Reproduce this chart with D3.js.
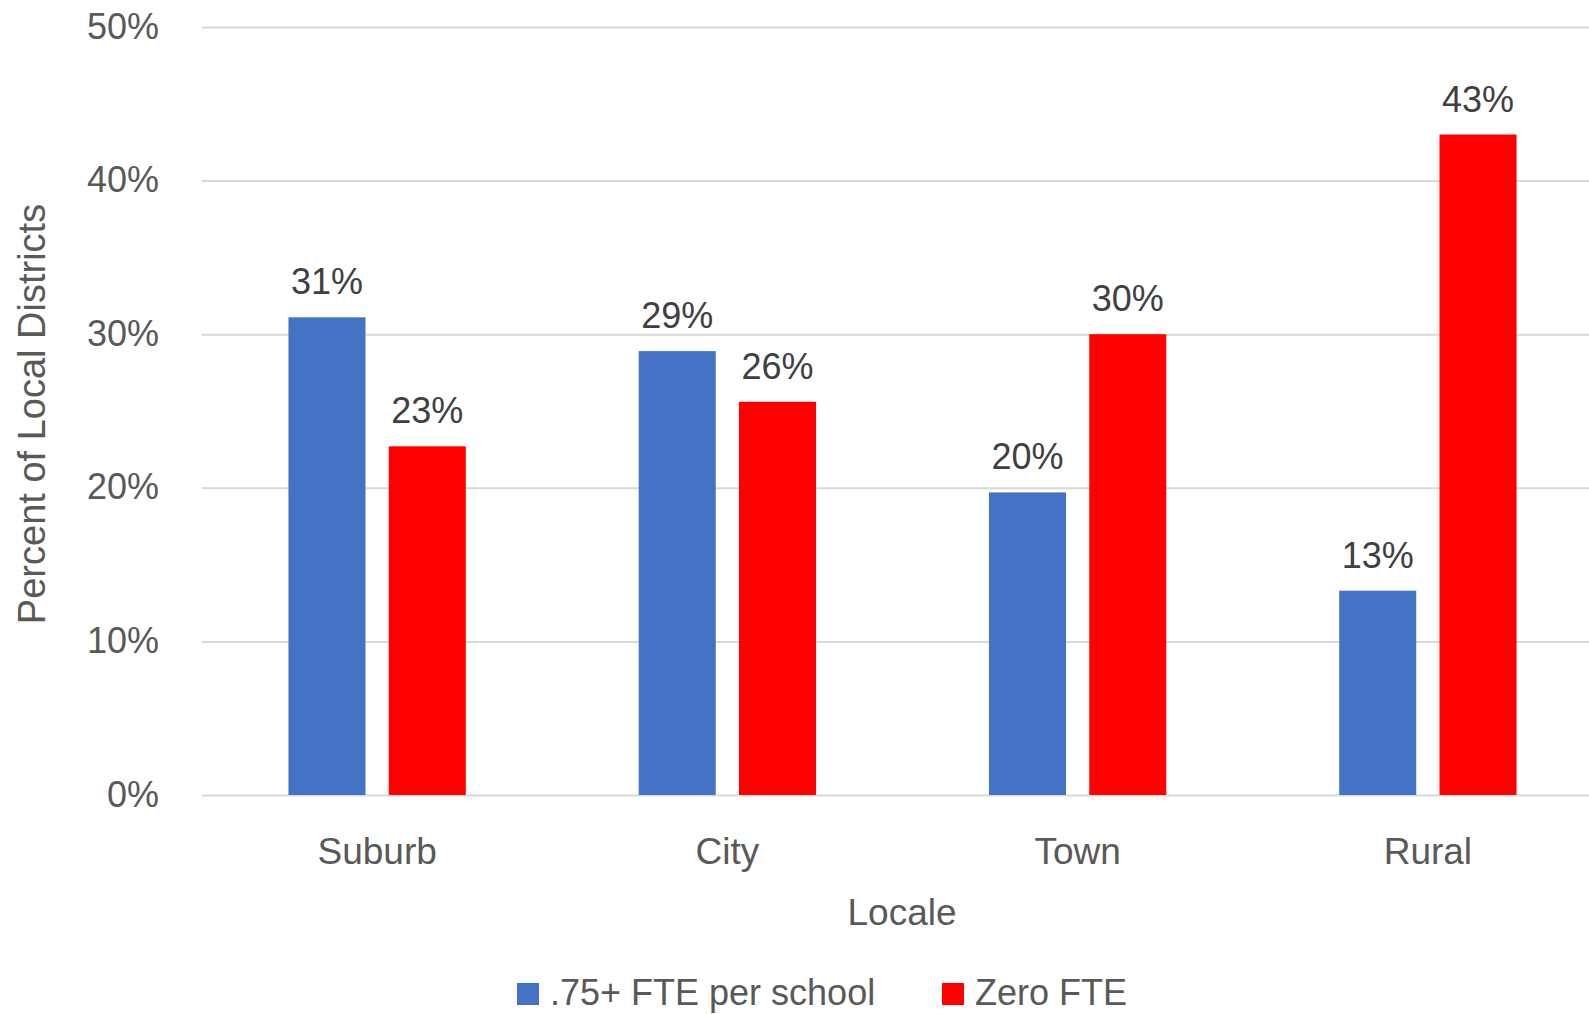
<!DOCTYPE html>
<html>
<head>
<meta charset="utf-8">
<script src="https://cdn.jsdelivr.net/npm/d3@7"></script>
<style>
  body { margin: 0; background: #fff; }
  text { font-family: "Liberation Sans", Arial, sans-serif; }
</style>
</head>
<body>
<div id="graph"></div>
<script>
// data
var locales = ["Suburb", "City", "Town", "Rural"]
var seriesNames = [".75+ FTE per school", "Zero FTE"]
var fteValues = [0.311, 0.289, 0.197, 0.133]
var zeroValues = [0.227, 0.256, 0.300, 0.430]
var yTicks = [0, 0.1, 0.2, 0.3, 0.4, 0.5]
var colours = ["#4472C4", "#FF0000"]

var w = 1589, h = 1014

var data = locales.map((l, i) => ({ locale: l, values: [fteValues[i], zeroValues[i]] }))

var svg = d3.select('#graph')
  .append('svg')
  .attr("width", w)
  .attr("height", h)
  .style("background", "white")

var x0 = d3.scaleBand()
  .domain(locales)
  .range([202, 1603])

var x1 = d3.scaleBand()
  .domain([0, 1])
  .range([0, x0.bandwidth()])
  .paddingInner(0.232)
  .paddingOuter(0.862)

var y = d3.scaleLinear()
  .domain([0, 0.5])
  .range([795, 27])

var pct = d3.format(".0%")

// gridlines + tick labels
var yAxis = d3.axisLeft(y)
  .tickValues(yTicks)
  .tickFormat(pct)
  .tickSize(-(w - 202))
  .tickPadding(43)

var gy = svg.append("g")
  .attr("transform", "translate(202,0)")
  .call(yAxis)

gy.select(".domain").remove()
gy.selectAll(".tick line")
  .attr("stroke", "#D9D9D9")
  .attr("stroke-width", 2)
gy.selectAll(".tick text")
  .attr("fill", "#595959")
  .attr("font-size", 36)
  .attr("dy", 11)
  .style("font-family", '"Liberation Sans", Arial, sans-serif')

// bars
var groups = svg.append("g").selectAll("g")
  .data(data)
  .enter()
  .append("g")
  .attr("transform", d => "translate(" + x0(d.locale) + ",0)")

groups.selectAll("rect")
  .data(d => d.values)
  .enter()
  .append("rect")
  .attr("x", (d, i) => x1(i))
  .attr("width", x1.bandwidth())
  .attr("y", d => y(d))
  .attr("height", d => y(0) - y(d))
  .attr("fill", (d, i) => colours[i])

groups.selectAll(".lbl")
  .data(d => d.values)
  .enter()
  .append("text")
  .attr("class", "lbl")
  .attr("x", (d, i) => x1(i) + x1.bandwidth() / 2)
  .attr("y", d => y(d) - 23)
  .attr("text-anchor", "middle")
  .attr("font-size", 36)
  .attr("fill", "#404040")
  .text(d => pct(d))

// category labels
svg.append("g").selectAll("text")
  .data(locales)
  .enter()
  .append("text")
  .attr("x", d => x0(d) + x0.bandwidth() / 2)
  .attr("y", 864)
  .attr("text-anchor", "middle")
  .attr("font-size", 37)
  .attr("fill", "#595959")
  .text(d => d)

// axis titles
svg.append("text")
  .attr("x", 902)
  .attr("y", 925)
  .attr("text-anchor", "middle")
  .attr("font-size", 37)
  .attr("fill", "#595959")
  .text("Locale")

svg.append("text")
  .attr("transform", "translate(45,414) rotate(-90)")
  .attr("text-anchor", "middle")
  .attr("font-size", 38)
  .attr("fill", "#595959")
  .text("Percent of Local Districts")

// legend (kept just inside the bottom edge)
var legendX = [517, 942]
var legend = svg.append("g").selectAll("g")
  .data(seriesNames)
  .enter()
  .append("g")
  .attr("transform", (d, i) => "translate(" + legendX[i] + ",0)")

legend.append("rect")
  .attr("x", 0)
  .attr("y", 983)
  .attr("width", 22)
  .attr("height", 22)
  .attr("fill", (d, i) => colours[i])

legend.append("text")
  .attr("x", 33)
  .attr("y", 1005)
  .attr("font-size", 36)
  .attr("fill", "#595959")
  .text(d => d)
</script>
</body>
</html>
